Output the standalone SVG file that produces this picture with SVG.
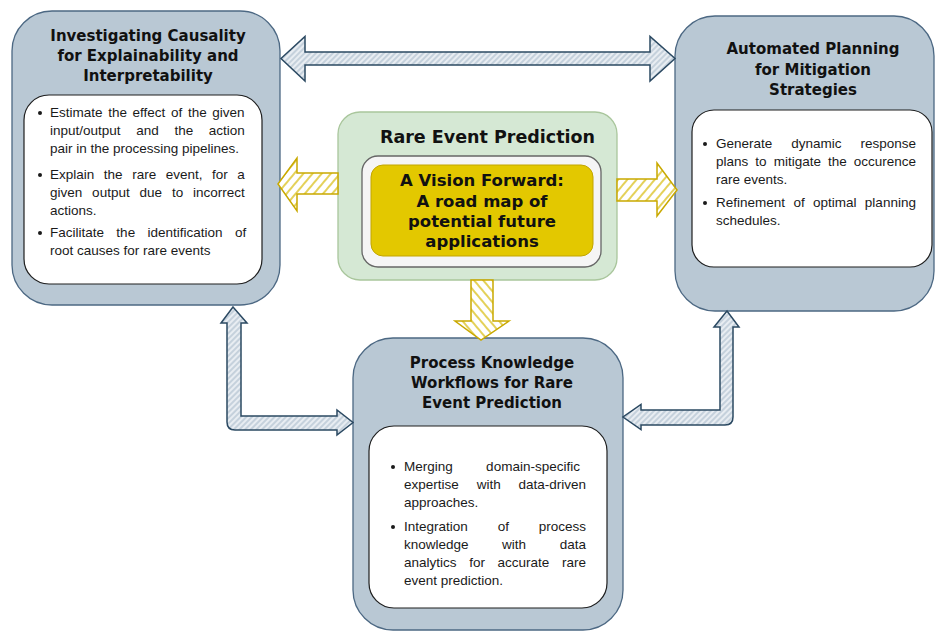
<svg xmlns="http://www.w3.org/2000/svg" width="935" height="631" viewBox="0 0 935 631">
<defs>
<pattern id="hb" patternUnits="userSpaceOnUse" width="4" height="4" patternTransform="rotate(45)"><rect width="4" height="4" fill="#e8edf2"/><line x1="1" y1="0" x2="1" y2="4" stroke="#a3b5c6" stroke-width="1"/></pattern>
<pattern id="hy" patternUnits="userSpaceOnUse" width="7" height="7" patternTransform="rotate(40)"><rect width="7" height="7" fill="#ffffff"/><line x1="1" y1="0" x2="1" y2="7" stroke="#d6b900" stroke-width="1.3"/></pattern>
<pattern id="hy2" patternUnits="userSpaceOnUse" width="7" height="7" patternTransform="rotate(-40)"><rect width="7" height="7" fill="#ffffff"/><line x1="1" y1="0" x2="1" y2="7" stroke="#d6b900" stroke-width="1.3"/></pattern>
</defs>
<style>
.outer{fill:#b9c8d4;stroke:#4c6883;stroke-width:1.3}
.inner{fill:#ffffff;stroke:#1e1e1e;stroke-width:1.2}
.ttl{font-family:"DejaVu Sans",sans-serif;font-weight:bold;font-size:15px;fill:#111;text-anchor:middle}
.body{font-family:"Liberation Sans",Arial,sans-serif;font-size:13.5px;fill:#1a1a1a}
.bul{fill:#1a1a1a}
.ba{fill:url(#hb);stroke:#2b4962;stroke-width:1.5;stroke-linejoin:miter}
.ya{stroke:#c9a900;stroke-width:1.5}
</style>

<g id="node-causality">
<rect class="outer" x="12" y="11" width="268" height="294" rx="40"/>
<text class="ttl" x="148" y="41">Investigating Causality</text>
<text class="ttl" x="148" y="61">for Explainability and</text>
<text class="ttl" x="148" y="81">Interpretability</text>
<rect class="inner" x="24" y="95" width="238" height="189" rx="25"/>
<circle class="bul" cx="40" cy="113" r="2"/>
<text class="body" x="50" y="117" word-spacing="1.9">Estimate the effect of the given</text>
<text class="body" x="50" y="135" word-spacing="11.9">input/output and the action</text>
<text class="body" x="50" y="153">pair in the processing pipelines.</text>
<circle class="bul" cx="40" cy="175" r="2"/>
<text class="body" x="50" y="179" word-spacing="5.8">Explain the rare event, for a</text>
<text class="body" x="50" y="197" word-spacing="6.1">given output due to incorrect</text>
<text class="body" x="50" y="215">actions.</text>
<circle class="bul" cx="40" cy="233" r="2"/>
<text class="body" x="50" y="237" word-spacing="8.6">Facilitate the identification of</text>
<text class="body" x="50" y="255">root causes for rare events</text>
</g>

<g id="node-planning">
<rect class="outer" x="675" y="16" width="259" height="295" rx="40"/>
<text class="ttl" x="813" y="54">Automated Planning</text>
<text class="ttl" x="813" y="75">for Mitigation</text>
<text class="ttl" x="813" y="95">Strategies</text>
<rect class="inner" x="692" y="110" width="240" height="157" rx="22"/>
<circle class="bul" cx="705" cy="144" r="2"/>
<text class="body" x="716" y="148" word-spacing="15.2">Generate dynamic response</text>
<text class="body" x="716" y="166" word-spacing="3.3">plans to mitigate the occurence</text>
<text class="body" x="716" y="184">rare events.</text>
<circle class="bul" cx="705" cy="203" r="2"/>
<text class="body" x="716" y="207" word-spacing="4.6">Refinement of optimal planning</text>
<text class="body" x="716" y="225">schedules.</text>
</g>

<g id="node-rare-event">
<rect x="338" y="112" width="279" height="168" rx="22" fill="#d5e8d4" stroke="#a9c69c" stroke-width="1.3"/>
<text x="487.5" y="143" font-family="DejaVu Sans, sans-serif" font-weight="bold" font-size="17.5" fill="#111" text-anchor="middle">Rare Event Prediction</text>
<rect x="362" y="156" width="239" height="111" rx="16" fill="#f5f5f5" stroke="#666666" stroke-width="1.3"/>
<rect x="371" y="165" width="222" height="91" rx="12" fill="#e3c800" stroke="#c2a500" stroke-width="1"/>
<g font-family="DejaVu Sans, sans-serif" font-weight="bold" font-size="16.5" fill="#111" text-anchor="middle">
<text x="482" y="186">A Vision Forward:</text>
<text x="482" y="207">A road map of</text>
<text x="482" y="227">potential future</text>
<text x="482" y="247">applications</text>
</g>
</g>

<g id="node-process">
<rect class="outer" x="353" y="338" width="270" height="292" rx="40"/>
<text class="ttl" x="492" y="368">Process Knowledge</text>
<text class="ttl" x="492" y="388">Workflows for Rare</text>
<text class="ttl" x="492" y="408">Event Prediction</text>
<rect class="inner" x="369" y="426" width="238" height="182" rx="25"/>
<circle class="bul" cx="393" cy="467" r="2"/>
<text class="body" x="404" y="471" word-spacing="29.6">Merging domain-specific</text>
<text class="body" x="404" y="489" word-spacing="14.1">expertise with data-driven</text>
<text class="body" x="404" y="507">approaches.</text>
<circle class="bul" cx="393" cy="527" r="2"/>
<text class="body" x="404" y="531" word-spacing="26.1">Integration of process</text>
<text class="body" x="404" y="549" word-spacing="29.8">knowledge with data</text>
<text class="body" x="404" y="567" word-spacing="8.9">analytics for accurate rare</text>
<text class="body" x="404" y="585">event prediction.</text>
</g>

<g id="connectors">
<path class="ba" d="M281,58.5 L305,36.5 L305,52 L650,52 L650,36.5 L675,58.5 L650,81 L650,65 L305,65 L305,81 Z"/>
<path class="ba" d="M233,307 L247,323 L241,323 L241,416 L337,416 L337,410 L353,422.5 L337,435 L337,430 L235,430 Q227,430 227,422 L227,323 L221,323 Z"/>
<path class="ba" d="M727,311 L739,327 L733,327 L733,417 Q733,425 725,425 L641,425 L641,429.5 L623,417 L641,404.5 L641,410 L720,410 L720,327 L714,327 Z"/>
<path class="ya" fill="url(#hy)" d="M278,184 L297,158 L297,173 L338,173 L338,194 L297,194 L297,211 Z"/>
<path class="ya" fill="url(#hy)" d="M617,179 L657,179 L657,163 L677,190 L657,216 L657,201 L617,201 Z"/>
<path class="ya" fill="url(#hy2)" d="M471,280 L493,280 L493,321 L509,321 L481,340 L455,321 L471,321 Z"/>
</g>
</svg>
